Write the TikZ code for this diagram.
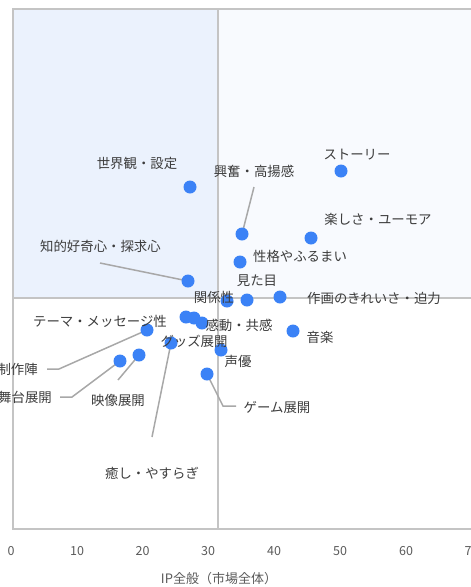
\documentclass[tikz,border=0pt]{standalone}
\usepackage{fontspec}
\setmainfont{Noto Sans CJK JP}
\definecolor{dotblue}{HTML}{3B82F6}
\definecolor{gridgray}{HTML}{C4C4C4}
\definecolor{leadgray}{HTML}{A8A8A8}
\definecolor{txt}{HTML}{3C3C3C}
\definecolor{tickc}{HTML}{5A5A5A}
\definecolor{qtl}{HTML}{EBF2FD}
\definecolor{qtr}{HTML}{F8FAFE}
\pgfdeclarelayer{bg}
\pgfsetlayers{bg,main}
\begin{document}
\begin{tikzpicture}[x=1pt,y=-1pt,
  lbl/.style={font=\fontsize{13.4}{16}\selectfont, text=txt, inner sep=0pt},
  dot/.style={circle, fill=dotblue, minimum size=13pt, inner sep=0pt},
  lead/.style={draw=leadgray, line width=1.5pt},
  tck/.style={font=\fontsize{12.5}{15}\selectfont, text=tickc, inner sep=0pt},
  frame/.style={draw=gridgray, line width=2pt}]
\useasboundingbox (0,0) rectangle (471,587);
\clip (0,0) rectangle (471,587);
% dots
\node[dot] (story) at (341,171) {};
\node[dot] (sekai) at (190,187) {};
\node[dot] (kofun) at (242,234) {};
\node[dot] (tanoshi) at (311,238) {};
\node[dot] (seikaku) at (240,262) {};
\node[dot] (chiteki) at (188,281) {};
\node[dot] (kankei) at (227,301) {};
\node[dot] (mitame) at (247,300) {};
\node[dot] (sakuga) at (280,297) {};
\node[dot] (theme) at (186,317) {};
\node[dot] (goods) at (194,318) {};
\node[dot] (kando) at (202,323) {};
\node[dot] (seisaku) at (147,330) {};
\node[dot] (ongaku) at (293,331) {};
\node[dot] (iyashi) at (171,343) {};
\node[dot] (seiyu) at (221,350) {};
\node[dot] (eizo) at (139,355) {};
\node[dot] (butai) at (120,361) {};
\node[dot] (game) at (207,374) {};
% labels
\node[lbl] (lstory) at (357,155) {ストーリー};
\node[lbl] (lsekai) at (137,163) {世界観・設定};
\node[lbl] (lkofun) at (254,171) {興奮・高揚感};
\node[lbl] (ltanoshi) at (378,219) {楽しさ・ユーモア};
\node[lbl] (lchiteki) at (100.5,246) {知的好奇心・探求心};
\node[lbl] (lseikaku) at (300,256) {性格やふるまい};
\node[lbl] (lmitame) at (257,281) {見た目};
\node[lbl] (lkankei) at (214,297) {関係性};
\node[lbl] (lsakuga) at (374,298) {作画のきれいさ・迫力};
\node[lbl] (ltheme) at (100,321) {テーマ・メッセージ性};
\node[lbl] (lkando) at (239,325) {感動・共感};
\node[lbl] (longaku) at (320,337) {音楽};
\node[lbl] (lgoods) at (194,341) {グッズ展開};
\node[lbl] (lseiyu) at (238,361) {声優};
\node[lbl, anchor=east] (lseisaku) at (38,369) {制作陣};
\node[lbl, anchor=east] (lbutai) at (52,397) {舞台展開};
\node[lbl] (leizo) at (118,400) {映像展開};
\node[lbl] (lgame) at (277,407) {ゲーム展開};
\node[lbl] (liyashi) at (152,473) {癒し・やすらぎ};
% leader points
\coordinate (pkofun) at (254,187);
\coordinate (pchiteki) at (100,263);
\coordinate (pseisakuA) at (47,369);
\coordinate (pseisakuB) at (59,369);
\coordinate (pbutaiA) at (60,397);
\coordinate (pbutaiB) at (72,397);
\coordinate (peizo) at (118,380);
\coordinate (piyashi) at (152,437);
\coordinate (pgameA) at (236,406);
\coordinate (pgameB) at (223,406);
% ticks
\foreach \v/\px in {0/11,10/77,20/142.5,30/208,40/274,50/340,60/406,70/471.5}
  \node[tck] (t\v) at (\px,551) {\v};
\node[tck, font=\fontsize{13}{15}\selectfont] (xtitle) at (219,579) {IP全般（市場全体）};
\begin{pgfonlayer}{bg}
  \fill[qtl] (12.7,9.3) rectangle (218,298);
  \fill[qtr] (218,9.3) rectangle (480,298);
  \draw[frame] (12.7,9.3) rectangle (480,529);
  \draw[frame] (218,9.3) -- (218,529);
  \draw[frame] (12.7,298) -- (480,298);
  \draw[lead] (pkofun) -- (kofun.center);
  \draw[lead] (pchiteki) -- (chiteki.center);
  \draw[lead] (pseisakuA) -- (pseisakuB) -- (seisaku.center);
  \draw[lead] (pbutaiA) -- (pbutaiB) -- (butai.center);
  \draw[lead] (peizo) -- (eizo.center);
  \draw[lead] (piyashi) -- (iyashi.center);
  \draw[lead] (pgameA) -- (pgameB) -- (game.center);
\end{pgfonlayer}
\end{tikzpicture}
\end{document}
